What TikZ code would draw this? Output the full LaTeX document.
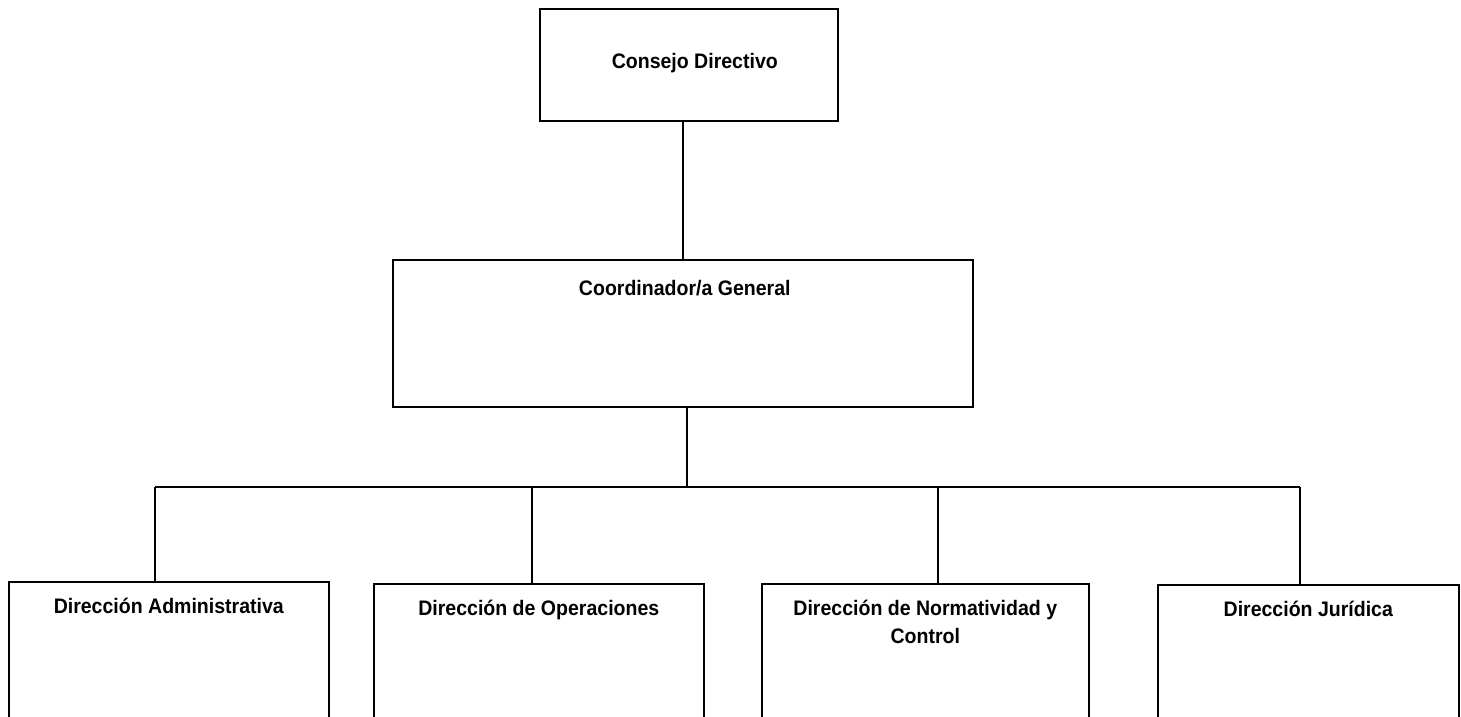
\documentclass[tikz,border=0pt]{standalone}
\usepackage{fontspec}
\setmainfont[FakeStretch=0.93]{Liberation Sans}
\begin{document}
\begin{tikzpicture}[x=1pt,y=-1pt,line width=1.6pt,
  unit/.style={draw=black,rectangle,inner sep=0pt,anchor=north west},
  lbl/.style={font=\bfseries\fontsize{21}{28}\selectfont,align=center,anchor=base,inner sep=0pt}]
\useasboundingbox (0,0) rectangle (1461,717);
\clip (0,0) rectangle (1461,717);

% boxes
\node[unit,minimum width=298pt,minimum height=112pt] (cd) at (539,8) {};
\node[unit,minimum width=580pt,minimum height=147pt] (cg) at (392,259) {};
\node[unit,minimum width=320pt,minimum height=170pt] (da) at (8,581) {};
\node[unit,minimum width=330pt,minimum height=170pt] (do) at (373,583) {};
\node[unit,minimum width=327pt,minimum height=170pt] (dn) at (761,583) {};
\node[unit,minimum width=301pt,minimum height=170pt] (dj) at (1157,584) {};

% labels (base of a two-line label sits on its last line)
\node[lbl] (cdt) at ([xshift=6pt,yshift=-60pt]cd.north) {Consejo Directivo};
\node[lbl] (cgt) at ([xshift=2pt,yshift=-36pt]cg.north) {Coordinador/a General};
\node[lbl] (dat) at ([yshift=-32pt]da.north) {Dirección Administrativa};
\node[lbl] (dot) at ([yshift=-32pt]do.north) {Dirección de Operaciones};
\node[lbl] (dnt) at ([yshift=-60pt]dn.north) {Dirección de Normatividad y\\Control};
\node[lbl] (djt) at ([yshift=-32pt]dj.north) {Dirección Jurídica};

% connectors
\coordinate (bus) at (687,487);
\coordinate (t1) at (155,487);
\coordinate (t2) at (532,487);
\coordinate (t3) at (938,487);
\coordinate (t4) at (1300,487);
\draw (cg.north) -- (cg.north |- cd.south);
\draw (bus |- cg.south) -- (bus);
\draw (t1) -- (t4);
\draw (t1) -- (t1 |- da.north);
\draw (t2) -- (t2 |- do.north);
\draw (t3) -- (t3 |- dn.north);
\draw (t4) -- (t4 |- dj.north);
\end{tikzpicture}
\end{document}
